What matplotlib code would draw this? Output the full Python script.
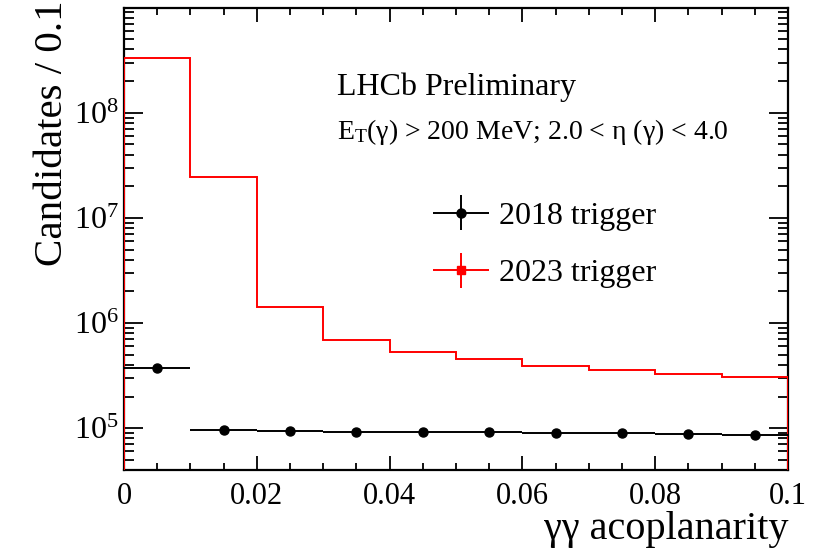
import numpy as np
import matplotlib
matplotlib.use("Agg")
import matplotlib.pyplot as plt
from matplotlib.ticker import MultipleLocator, LogLocator, NullFormatter, LogFormatterMathtext
from matplotlib.legend_handler import HandlerErrorbar
from matplotlib.container import ErrorbarContainer

plt.rcParams['font.family'] = ['Liberation Serif', 'DejaVu Serif']
plt.rcParams['mathtext.fontset'] = 'custom'
plt.rcParams['mathtext.rm'] = 'Liberation Serif'
plt.rcParams['mathtext.it'] = 'Liberation Serif:italic'

# ---- data ----
bin_edges = [0.0, 0.01, 0.02, 0.03, 0.04, 0.05, 0.06, 0.07, 0.08, 0.09, 0.10]
counts_2023 = [3.3e8, 2.45e7, 1.43e6, 6.9e5, 5.3e5, 4.5e5, 3.9e5, 3.57e5, 3.29e5, 3.04e5]
centers_2018 = [0.005, 0.015, 0.025, 0.035, 0.045, 0.055, 0.065, 0.075, 0.085, 0.095]
counts_2018 = [3.75e5, 9.7e4, 9.4e4, 9.2e4, 9.2e4, 9.1e4, 9.0e4, 8.9e4, 8.85e4, 8.7e4]
yerr_2018 = [610, 310, 307, 303, 303, 302, 300, 298, 297, 295]
xerr_2018 = [0.005] * 10
labels = ["2018 trigger", "2023 trigger"]

W, H = 819, 554
fig = plt.figure(figsize=(W / 100, H / 100), dpi=100)
ax = fig.add_axes([124 / W, 1 - 470 / H, (788 - 124) / W, (470 - 8) / H])

ymin, ymax = 4e4, 9.9e8
ax.set_yscale('log')
ax.set_xlim(0, 0.1)
ax.set_ylim(ymin, ymax)

# red step histogram (2023)
xs = [bin_edges[0]]
ys = [ymin]
for i in range(len(counts_2023)):
    xs += [bin_edges[i], bin_edges[i + 1]]
    ys += [counts_2023[i], counts_2023[i]]
xs.append(bin_edges[-1])
ys.append(ymin)
ax.plot(xs, ys, color='#ff0000', lw=1.4, solid_joinstyle='miter', zorder=3)

# black points (2018)
eb18 = ax.errorbar(centers_2018, counts_2018, xerr=xerr_2018, yerr=yerr_2018,
                   fmt='o', color='black', ms=6.5, lw=1.4, capsize=0, zorder=4)
# proxy for legend
eb23 = ax.errorbar([np.nan], [np.nan], xerr=[1], yerr=[1], fmt='s', color='#ff0000',
                   ms=6, lw=1.4, capsize=0)

# ticks
ax.set_xticks([0, 0.02, 0.04, 0.06, 0.08, 0.1])
ax.set_xticklabels(['0', '0.02', '0.04', '0.06', '0.08', '0.1'])
ax.xaxis.set_minor_locator(MultipleLocator(0.005))
ax.yaxis.set_major_locator(LogLocator(base=10, numticks=20))
ax.yaxis.set_minor_locator(LogLocator(base=10, subs=np.arange(2, 10), numticks=20))
ax.yaxis.set_major_formatter(LogFormatterMathtext())
ax.yaxis.set_minor_formatter(NullFormatter())

ax.tick_params(axis='both', which='both', direction='in', top=True, right=True,
               color='black', width=1.3)
ax.tick_params(axis='x', which='major', length=10, pad=9, labelsize=22)
ax.tick_params(axis='x', which='minor', length=5)
ax.tick_params(axis='y', which='major', length=14, pad=4, labelsize=23)
ax.tick_params(axis='y', which='minor', length=7)
for s in ax.spines.values():
    s.set_linewidth(1.6)

ax.set_ylabel('Candidates / 0.1', fontsize=29.5, loc='top')
ax.yaxis.set_label_coords(-0.08, 1.016)
ax.set_xlabel('γγ acoplanarity', fontsize=29, loc='right')
ax.xaxis.set_label_coords(1.0, -0.088)

ax.text(0.321, 0.829, 'LHCb Preliminary', transform=ax.transAxes, fontsize=23,
        ha='left', va='center')
ax.text(0.321, 0.731, r'E$_{\mathrm{T}}$(γ) > 200 MeV; 2.0 < η (γ) < 4.0',
        transform=ax.transAxes, fontsize=20, ha='left', va='center')

hm = {ErrorbarContainer: HandlerErrorbar(xerr_size=0.88, yerr_size=0.55)}
leg = ax.legend([eb18, eb23], labels, loc='upper left', bbox_to_anchor=(0.465, 0.581),
                frameon=False, fontsize=23, handlelength=1.78, handletextpad=0.3,
                labelspacing=0.88, borderpad=0, borderaxespad=0, handler_map=hm)

fig.savefig('out.png', dpi=100)
